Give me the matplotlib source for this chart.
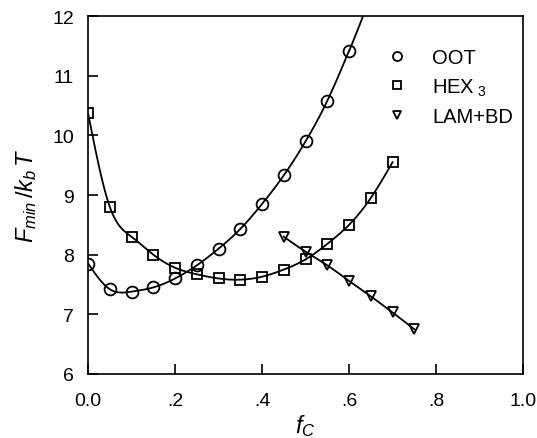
import numpy as np
import matplotlib
matplotlib.use("Agg")
import matplotlib.pyplot as plt
from matplotlib.lines import Line2D

plt.rcParams['font.family'] = ['Liberation Sans', 'DejaVu Sans']
plt.rcParams['mathtext.fontset'] = 'custom'
plt.rcParams['mathtext.it'] = 'Liberation Sans:italic'
plt.rcParams['mathtext.rm'] = 'Liberation Sans'

# data
oot_x = [0.0, 0.05, 0.10, 0.15, 0.20, 0.25, 0.30, 0.35, 0.40, 0.45, 0.50, 0.55, 0.60]
oot_y = [7.85, 7.42, 7.38, 7.45, 7.60, 7.82, 8.10, 8.43, 8.85, 9.33, 9.90, 10.58, 11.42]
hex_x = [0.0, 0.05, 0.10, 0.15, 0.20, 0.25, 0.30, 0.35, 0.40, 0.45, 0.50, 0.55, 0.60, 0.65, 0.70]
hex_y = [10.37, 8.80, 8.30, 8.00, 7.78, 7.67, 7.60, 7.58, 7.63, 7.75, 7.92, 8.18, 8.50, 8.95, 9.55]
lam_x = [0.45, 0.50, 0.55, 0.60, 0.65, 0.70, 0.75]
lam_y = [8.30, 8.05, 7.82, 7.56, 7.30, 7.03, 6.75]
x_ticks = [0.0, 0.2, 0.4, 0.6, 0.8, 1.0]
x_ticklabels = ['0.0', '.2', '.4', '.6', '.8', '1.0']
y_ticks = [6, 7, 8, 9, 10, 11, 12]


def natural_spline(x, y, xs):
    x = np.asarray(x, float); y = np.asarray(y, float)
    n = len(x)
    h = np.diff(x)
    A = np.zeros((n, n)); b = np.zeros(n)
    A[0, 0] = 1; A[-1, -1] = 1
    for i in range(1, n - 1):
        A[i, i - 1] = h[i - 1]
        A[i, i] = 2 * (h[i - 1] + h[i])
        A[i, i + 1] = h[i]
        b[i] = 3 * ((y[i + 1] - y[i]) / h[i] - (y[i] - y[i - 1]) / h[i - 1])
    c = np.linalg.solve(A, b)
    out = []
    for xv in xs:
        i = min(max(np.searchsorted(x, xv) - 1, 0), n - 2)
        dx = xv - x[i]
        bb = (y[i + 1] - y[i]) / h[i] - h[i] * (2 * c[i] + c[i + 1]) / 3
        d = (c[i + 1] - c[i]) / (3 * h[i])
        out.append(y[i] + bb * dx + c[i] * dx ** 2 + d * dx ** 3)
    return np.array(out)


fig = plt.figure(figsize=(5.37, 4.39), dpi=100)
ax = fig.add_axes([0.164, 0.146, 0.81, 0.815])

# OOT curve: spline through points, extended with polynomial fit of tail
xs = np.linspace(0, 0.6, 300)
ax.plot(xs, natural_spline(oot_x, oot_y, xs), color='black', lw=1.3)
p = np.polyfit(oot_x[-5:], oot_y[-5:], 2)
xe = np.linspace(0.6, 0.66, 40)
ax.plot(xe, np.polyval(p, xe), color='black', lw=1.3)

xs = np.linspace(0, 0.7, 300)
ax.plot(xs, natural_spline(hex_x, hex_y, xs), color='black', lw=1.3)
xs = np.linspace(0.45, 0.75, 100)
ax.plot(xs, natural_spline(lam_x, lam_y, xs), color='black', lw=1.3)

mk = dict(linestyle='none', markerfacecolor='none', markeredgecolor='black', markeredgewidth=1.3, zorder=3)
ax.plot(oot_x, oot_y, marker='o', markersize=8.5, **mk)
ax.plot(hex_x, hex_y, marker='s', markersize=6.5, **mk)
ax.plot(lam_x, lam_y, marker='v', markersize=7.5, **mk)

ax.set_xlim(0, 1.0)
ax.set_ylim(6, 12)
ax.set_xticks(x_ticks)
ax.set_xticklabels(x_ticklabels)
ax.set_yticks(y_ticks)
ax.tick_params(direction='in', length=7, width=1.2, labelsize=14, top=False, right=False)
ax.tick_params(axis='x', pad=13)
ax.tick_params(axis='y', pad=10)
for s in ax.spines.values():
    s.set_linewidth(1.2)

ax.set_xlabel('$f_C$', fontsize=17, labelpad=2)
ax.set_ylabel('$F_{min}\\,/k_b\\,T$', fontsize=17, labelpad=10)

handles = [
    Line2D([], [], marker='o', markersize=6.5, **mk),
    Line2D([], [], marker='s', markersize=5.5, **mk),
    Line2D([], [], marker='v', markersize=6, **mk),
]
labels = ['OOT', 'HEX$_{\\ 3}$', 'LAM+BD']
ax.legend(handles, labels, loc='upper left', bbox_to_anchor=(0.675, 0.91), frameon=False,
          borderpad=0, borderaxespad=0,
          fontsize=14.5, handletextpad=1.0, labelspacing=0.45, handlelength=1.5)

fig.savefig('out.png', dpi=100)
